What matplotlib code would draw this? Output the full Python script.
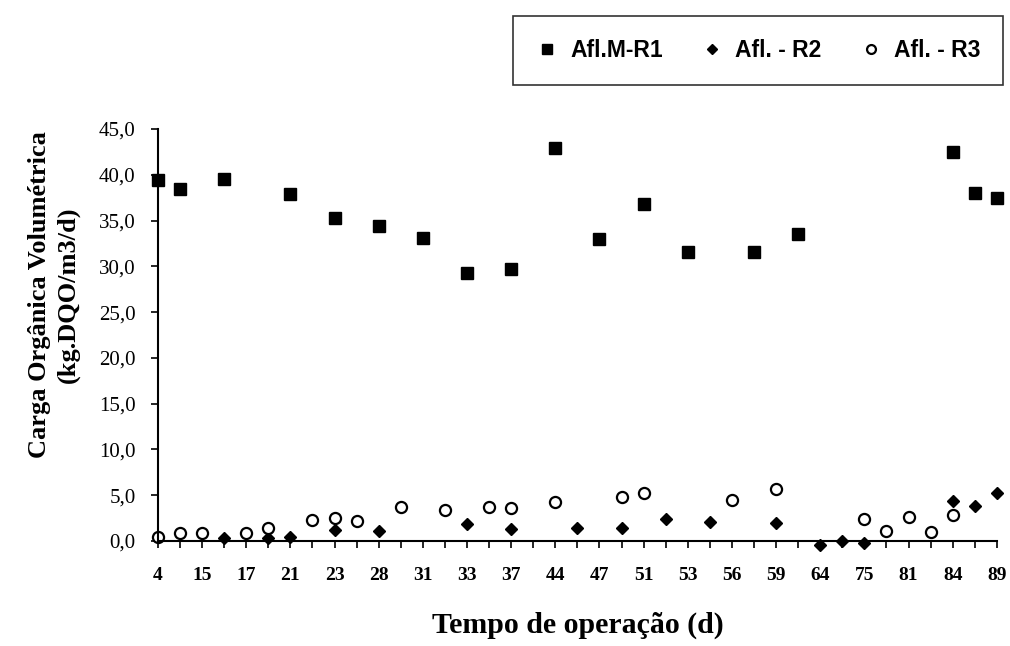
import numpy as np
import matplotlib
matplotlib.use("Agg")
import matplotlib.pyplot as plt

# Rótulos do eixo x (um rótulo a cada duas categorias)
dias = ['4', '', '15', '', '17', '', '21', '', '23', '', '28', '', '31', '', '33', '',
        '37', '', '44', '', '47', '', '51', '', '53', '', '56', '', '59', '', '64', '',
        '75', '', '81', '', '84', '', '89']

# Valores por categoria (índice da categoria -> carga)
r1_idx = [0, 1, 3, 6, 8, 10, 12, 14, 16, 18, 20, 22, 24, 27, 29, 36, 37, 38]
r1_val = [39.4, 38.4, 39.5, 37.9, 35.3, 34.4, 33.1, 29.3, 29.7, 42.9, 33.0, 36.8,
          31.6, 31.6, 33.5, 42.5, 38.0, 37.5]

r2_idx = [3, 5, 6, 8, 10, 14, 16, 19, 21, 23, 25, 28, 30, 31, 32, 36, 37, 38]
r2_val = [0.35, 0.35, 0.4, 1.2, 1.05, 1.85, 1.3, 1.45, 1.37, 2.4, 2.1, 2.0,
          -0.4, 0.0, -0.2, 4.4, 3.8, 5.25]

r3_idx = [0, 1, 2, 4, 5, 7, 8, 9, 11, 13, 15, 16, 18, 21, 22, 26, 28, 32, 33, 34, 35, 36]
r3_val = [0.4, 0.9, 0.9, 0.86, 1.45, 2.25, 2.5, 2.2, 3.75, 3.4, 3.7, 3.6, 4.3, 4.8,
          5.2, 4.5, 5.65, 2.4, 1.1, 2.65, 0.97, 2.8]

y_ticks = [0, 5, 10, 15, 20, 25, 30, 35, 40, 45]

serif = ['Liberation Serif', 'DejaVu Serif']
sans = ['Liberation Sans', 'DejaVu Sans']

fig = plt.figure(figsize=(10.10, 6.46), dpi=100)
ax = fig.add_axes([0.1564, 0.1625, 0.987 - 0.1564, 0.8003 - 0.1625])

ax.plot(r1_idx, r1_val, linestyle='none', marker='s', markersize=8.5,
        color='black', label='Afl.M-R1', clip_on=False)
ax.plot(r2_idx, r2_val, linestyle='none', marker='D', markersize=6.0,
        color='black', label='Afl. - R2', clip_on=False)
ax.plot(r3_idx, r3_val, linestyle='none', marker='o', markersize=8.0,
        markerfacecolor='white', markeredgecolor='black', markeredgewidth=1.6,
        label='Afl. - R3', clip_on=False)

ax.set_xlim(0, len(dias) - 1)
ax.set_ylim(0, 45)
ax.set_xticks(range(len(dias)))
ax.set_xticklabels(dias, fontfamily=serif, fontweight='bold', fontsize=14)
ax.set_yticks(y_ticks)
ax.set_yticklabels([f"{v:.1f}".replace('.', ',') for v in y_ticks],
                   fontfamily=serif, fontsize=15)

for s in ['top', 'right']:
    ax.spines[s].set_visible(False)
ax.spines['left'].set_linewidth(1.5)
ax.spines['bottom'].set_linewidth(1.5)
ax.tick_params(axis='both', direction='out', width=1.2, length=5, color='black')
ax.tick_params(axis='x', pad=14)
ax.tick_params(axis='y', pad=11)

ax.set_xlabel('Tempo de operação (d)', fontfamily=serif, fontweight='bold',
              fontsize=21.5)
ax.xaxis.set_label_coords(0.5, -0.172)
ax.set_ylabel('Carga Orgânica Volumétrica\n(kg.DQO/m3/d)', fontfamily=serif,
              fontweight='bold', fontsize=19, linespacing=1.3)
ax.yaxis.set_label_coords(-0.093, 0.597)

leg = ax.legend(loc='center', bbox_to_anchor=(513 / 1010, 1 - 88 / 646, 490 / 1010, 75 / 646),
                bbox_transform=fig.transFigure, mode='expand', ncol=3, frameon=True,
                fancybox=False, edgecolor='black', markerscale=0.8,
                handlelength=1.0, handletextpad=0.5, columnspacing=1.6,
                borderpad=1.0, borderaxespad=0,
                prop={'family': sans, 'weight': 'bold', 'size': 16.5})
leg.get_frame().set_linewidth(1.2)

fig.savefig('out.png', dpi=100)
